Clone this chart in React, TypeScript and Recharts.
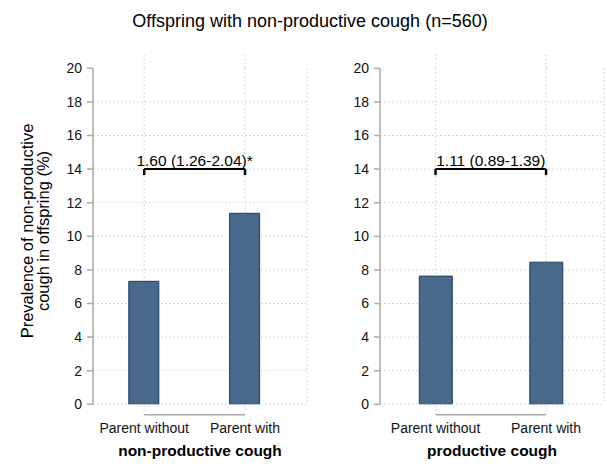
import React from 'react';
import { BarChart, Bar, XAxis, YAxis, CartesianGrid, ReferenceLine } from 'recharts';

const categories = ['Parent without', 'Parent with'];
const nonProductiveValues = [7.32, 11.37];
const productiveValues = [7.63, 8.46];
const yTicks = [0, 2, 4, 6, 8, 10, 12, 14, 16, 18, 20];
const gridTicks = yTicks.filter((t) => t < 20);
const ratioLabels = ['1.60 (1.26-2.04)*', '1.11 (0.89-1.39)'];
const panelTitles = ['non-productive cough', 'productive cough'];
const chartTitle = 'Offspring with non-productive cough (n=560)';
const yLabelLines = ['Prevalence of non-productive', 'cough in offspring (%)'];
const bracketLevel = 14;

const FONT = '"Liberation Sans", Arial, Helvetica, sans-serif';
const BAR_FILL = '#48698a';
const BAR_STROKE = '#1d3f63';
const AXIS_GRAY = '#ababab';
const GRID_GRAY = '#cbcbcb';
const GRID_DASH = '1.5 2.5';

// data-unit extents for axis decorations (px / 16.8 px per unit)
const PX_PER_UNIT = 16.8;
const xAxisLevel = -10.4 / PX_PER_UNIT;
const gridTop = (404.3 - 55) / PX_PER_UNIT;
const bracketTick = 6 / PX_PER_UNIT;

type PanelProps = {
  values: number[];
  label: string;
  title: string;
  left: number;
  width: number;
  marginLeft: number;
  marginRight: number;
  padLeft: number;
  padRight: number;
  barSize: number;
};

const CatTick = (props: any) => {
  const { x, y, payload } = props;
  return (
    <text x={x} y={y + 28.7} textAnchor="middle" fontSize={14} fill="#111" fontFamily={FONT}>
      {payload.value}
    </text>
  );
};

function Panel(p: PanelProps) {
  const data = categories.map((name, i) => ({ name, value: p.values[i] }));
  const [c1, c2] = categories;
  return (
    <div style={{ position: 'absolute', left: p.left, top: 0 }}>
      <BarChart
        width={p.width}
        height={471}
        data={data}
        margin={{ top: 68.3, right: p.marginRight, bottom: 471 - 404.3 - 57, left: p.marginLeft }}
        style={{ fontFamily: FONT }}
      >
        <CartesianGrid
          horizontalValues={gridTicks}
          stroke={GRID_GRAY}
          strokeDasharray={GRID_DASH}
        />
        <XAxis
          dataKey="name"
          type="category"
          padding={{ left: p.padLeft, right: p.padRight }}
          axisLine={false}
          tickLine={false}
          tickSize={0}
          tickMargin={0}
          interval={0}
          height={57}
          tick={<CatTick />}
          label={{
            value: p.title,
            position: 'insideBottom',
            offset: 5,
            fontSize: 15.5,
            fontWeight: 'bold',
            fill: '#000',
          }}
        />
        <YAxis
          type="number"
          domain={[0, 20]}
          ticks={yTicks}
          interval={0}
          width={40}
          allowDataOverflow
          axisLine={{ stroke: AXIS_GRAY, strokeWidth: 1.5 }}
          tickLine={{ stroke: AXIS_GRAY, strokeWidth: 1.5 }}
          tickSize={6}
          tickMargin={5}
          tick={{ fill: '#111', fontSize: 14, fontFamily: FONT }}
        />
        <Bar
          dataKey="value"
          fill={BAR_FILL}
          stroke={BAR_STROKE}
          strokeWidth={1}
          barSize={p.barSize}
          isAnimationActive={false}
        />
        {categories.map((c) => (
          <ReferenceLine
            key={'vt' + c}
            segment={[
              { x: c, y: 20 },
              { x: c, y: gridTop },
            ]}
            ifOverflow="visible"
            stroke={GRID_GRAY}
            strokeDasharray={GRID_DASH}
          />
        ))}
        {categories.map((c) => (
          <ReferenceLine
            key={'vb' + c}
            segment={[
              { x: c, y: xAxisLevel },
              { x: c, y: 0 },
            ]}
            ifOverflow="visible"
            stroke={GRID_GRAY}
            strokeDasharray={GRID_DASH}
          />
        ))}
        <ReferenceLine
          segment={[
            { x: c1, y: xAxisLevel },
            { x: c2, y: xAxisLevel },
          ]}
          ifOverflow="visible"
          stroke={AXIS_GRAY}
          strokeWidth={1.5}
        />
        <ReferenceLine
          segment={[
            { x: c1, y: bracketLevel },
            { x: c2, y: bracketLevel },
          ]}
          ifOverflow="visible"
          stroke="#000"
          strokeWidth={2}
          label={{ value: p.label, position: 'top', offset: 3, fontSize: 15.5, fill: '#000' }}
        />
        {categories.map((c) => (
          <ReferenceLine
            key={'b' + c}
            segment={[
              { x: c, y: bracketLevel },
              { x: c, y: bracketLevel - bracketTick },
            ]}
            ifOverflow="visible"
            stroke="#000"
            strokeWidth={2.5}
          />
        ))}
      </BarChart>
    </div>
  );
}

export default function App() {
  return (
    <div
      style={{
        position: 'absolute',
        left: 0,
        top: 0,
        width: 607,
        height: 471,
        background: '#fff',
        fontFamily: FONT,
        overflow: 'hidden',
      }}
    >
      <Panel
        values={nonProductiveValues}
        label={ratioLabels[0]}
        title={panelTitles[0]}
        left={0}
        width={320}
        marginLeft={53}
        marginRight={13}
        padLeft={0.8}
        padRight={11.6}
        barSize={30}
      />
      <Panel
        values={productiveValues}
        label={ratioLabels[1]}
        title={panelTitles[1]}
        left={300}
        width={307}
        marginLeft={40}
        marginRight={3}
        padLeft={0.3}
        padRight={2.7}
        barSize={33}
      />
      <svg
        width={607}
        height={471}
        style={{ position: 'absolute', left: 0, top: 0, pointerEvents: 'none' }}
      >
        <text x={310} y={27} textAnchor="middle" fontSize={18} fill="#000" fontFamily={FONT}>
          {chartTitle}
        </text>
        <text
          transform="translate(33,231) rotate(-90)"
          textAnchor="middle"
          fontSize={16.5}
          fill="#000"
          fontFamily={FONT}
        >
          <tspan x={0} y={0}>{yLabelLines[0]}</tspan>
          <tspan x={0} y={16}>{yLabelLines[1]}</tspan>
        </text>
      </svg>
    </div>
  );
}
